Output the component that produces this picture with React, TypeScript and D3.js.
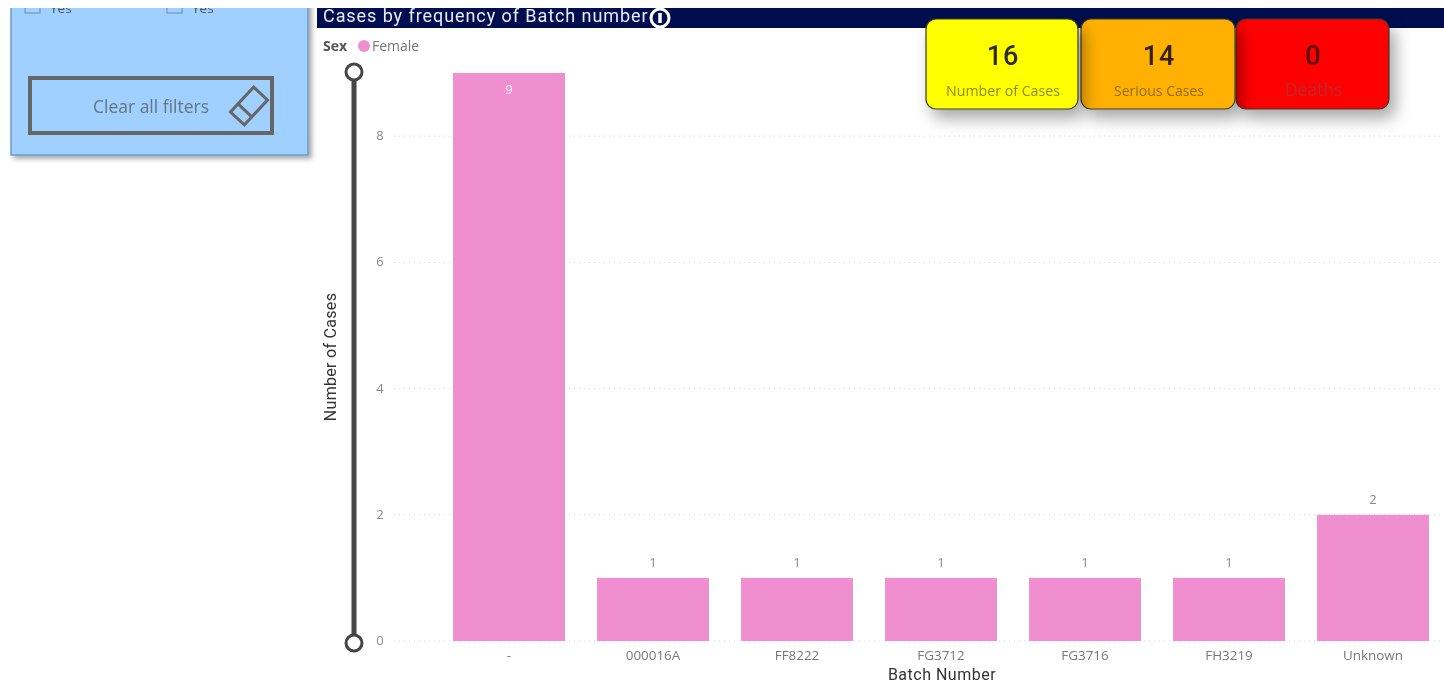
import React from "react";
import * as d3 from "d3";

const batches = ["-", "000016A", "FF8222", "FG3712", "FG3716", "FH3219", "Unknown"];
const caseCounts = [9, 1, 1, 1, 1, 1, 2];
const yTicks = [0, 2, 4, 6, 8];
const kpiValues = ["16", "14", "0"];
const kpiLabels = ["Number of Cases", "Serious Cases", "Deaths"];

const W = 1444, H = 685;
const din = "Roboto, 'DejaVu Sans', sans-serif";
const ui = "'Open Sans', 'Noto Sans', sans-serif";

const x = d3.scaleBand<string>().domain(batches).range([437, 1445]).paddingInner(32 / 144).paddingOuter(16 / 144);
const y = d3.scaleLinear().domain([0, 9]).range([641, 73]);

const cards = [
  { x: 926, w: 152, fill: "#ffff00", num: "#2e2a10", lab: "#8b8b12", labSize: 14.2 },
  { x: 1081, w: 154, fill: "#ffb000", num: "#33230a", lab: "#916c12", labSize: 14 },
  { x: 1236, w: 153, fill: "#ff0000", num: "#5a0808", lab: "#bd2a2e", labSize: 17.5 },
];

export default function App() {
  const order = [2, 1, 0];
  return (
    <svg width={W} height={H} viewBox={`0 0 ${W} ${H}`} style={{ position: "fixed", left: 0, top: 0, display: "block", background: "#fff" }}>
      <defs>
        <clipPath id="page"><rect x={0} y={8} width={W} height={H - 8} /></clipPath>
        <filter id="panelShadow" x="-5%" y="-5%" width="112%" height="120%">
          <feDropShadow dx={3} dy={3} stdDeviation={2.5} floodColor="#000" floodOpacity={0.35} />
        </filter>
        <filter id="cardShadow" x="-20%" y="-20%" width="145%" height="175%">
          <feDropShadow dx={6} dy={9} stdDeviation={8} floodColor="#000" floodOpacity={0.34} />
        </filter>
        <filter id="soft" filterUnits="userSpaceOnUse" x={0} y={0} width={W} height={H}><feGaussianBlur stdDeviation={0.4} /></filter>
      </defs>
      <g clipPath="url(#page)">
        <g filter="url(#soft)">
          {/* left slicer panel */}
          <rect x={11} y={-20} width={297} height={175} fill="#9fd0ff" stroke="#6b9cc8" strokeWidth={1.5} filter="url(#panelShadow)" />
          {[25, 167].map((cx) => (
            <g key={cx}>
              <rect x={cx} y={-2} width={15} height={15} fill="none" stroke="#6f8ba4" strokeWidth={1} />
              <text x={cx + 25} y={13} fontFamily={ui} fontSize={13.5} fill="#4a5560">Yes</text>
            </g>
          ))}
          <rect x={30} y={78} width={242} height={55} fill="none" stroke="#666" strokeWidth={4} />
          <text x={151} y={113} textAnchor="middle" fontFamily={ui} fontSize={17.5} fill="#667480">Clear all filters</text>
          <g transform="translate(249 106) rotate(-47)" fill="none" stroke="#666" strokeWidth={3}>
            <rect x={-17} y={-9.5} width={34} height={19} />
            <line x1={-6} y1={-9.5} x2={-6} y2={9.5} />
          </g>

          {/* title bar */}
          <rect x={317} y={8} width={W - 317} height={20} fill="#03114f" />
          <text x={323} y={22} fontFamily={din} fontSize={18} letterSpacing={0.93} fill="#e8ebf4">Cases by frequency of Batch number</text>
          <circle cx={660} cy={18} r={9} fill="#03114f" stroke="#fff" strokeWidth={3} />
          <line x1={660} y1={13} x2={660} y2={23} stroke="#fff" strokeWidth={3.5} />

          {/* legend */}
          <text x={323} y={51} fontFamily={ui} fontSize={14} fontWeight={700} fill="#555">Sex</text>
          <circle cx={364} cy={46} r={6} fill="#ef8fcf" />
          <text x={372} y={51} fontFamily={ui} fontSize={14} fill="#777">Female</text>

          {/* grid and y axis */}
          {yTicks.map((t) => (
            <g key={t}>
              <line x1={394} x2={W} y1={y(t)} y2={y(t)} stroke="#d4d4d4" strokeWidth={1} strokeDasharray="1 4" />
              <text x={380} y={y(t) + 4} textAnchor="middle" fontFamily={ui} fontSize={13} fill="#8a8a8a">{t}</text>
            </g>
          ))}
          <line x1={354} x2={354} y1={y(9) - 1} y2={y(0) + 2} stroke="#444" strokeWidth={5} />
          {[y(9) - 1, y(0) + 2].map((cy) => (
            <circle key={cy} cx={354} cy={cy} r={8} fill="#fff" stroke="#444" strokeWidth={3} />
          ))}
          <text transform={`translate(336 357) rotate(-90)`} textAnchor="middle" fontFamily={din} fontSize={16} letterSpacing={0.3} fill="#333">Number of Cases</text>

          {/* bars */}
          {batches.map((b, i) => {
            const v = caseCounts[i];
            const inside = v === d3.max(caseCounts);
            const cx = x(b)! + x.bandwidth() / 2;
            return (
              <g key={b}>
                <rect x={x(b)} y={y(v)} width={x.bandwidth()} height={y(0) - y(v)} fill="#ef8fcf" />
                <text x={cx} y={inside ? y(v) + 21 : y(v) - 11} textAnchor="middle" fontFamily={ui} fontSize={13} fill={inside ? "#fbeef7" : "#8a8a8a"}>{v}</text>
                <text x={cx} y={660} textAnchor="middle" fontFamily={ui} fontSize={13.4} fill="#777">{b}</text>
              </g>
            );
          })}
          <text x={942} y={680} textAnchor="middle" fontFamily={din} fontSize={16} letterSpacing={0.5} fill="#333">Batch Number</text>

          {/* KPI cards */}
          {order.map((i) => {
            const c = cards[i];
            const cx = c.x + c.w / 2 + 1;
            return (
              <g key={i}>
                <rect x={c.x} y={19} width={c.w} height={90} rx={10} fill={c.fill} stroke="#3a3a2a" strokeWidth={1.2} filter="url(#cardShadow)" />
                <text x={cx} y={65} textAnchor="middle" fontFamily={din} fontSize={27} fontWeight={500} letterSpacing={1} fill={c.num}>{kpiValues[i]}</text>
                <text x={cx} y={96} textAnchor="middle" fontFamily={ui} fontSize={c.labSize} fill={c.lab}>{kpiLabels[i]}</text>
              </g>
            );
          })}
        </g>
      </g>
    </svg>
  );
}
